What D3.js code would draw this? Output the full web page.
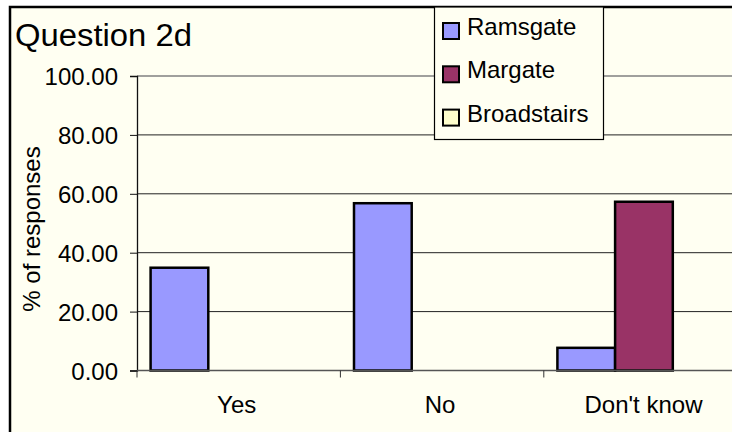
<!DOCTYPE html>
<html lang="en">
<head>
    <meta charset="UTF-8">
    <script src="https://d3js.org/d3.v7.min.js"></script>
    <title>Question 2d</title>
    <style>
        body { margin: 0; background: white; }
        text { font-family: Arial, "Liberation Sans", sans-serif; fill: black; }
    </style>
</head>
<body>
    <div class="chart"></div>
    <script>
        // data
        const categories = ["Yes", "No", "Don't know"];
        const seriesNames = ["Ramsgate", "Margate", "Broadstairs"];
        const ramsgate = [34.9, 56.8, 7.7];
        const margate = [0, 0, 57.3];
        const broadstairs = [0, 0, 0];
        const yTicks = [0, 20, 40, 60, 80, 100];
        const colors = ["#9999FF", "#993366", "#FFFFCC"];

        const seriesValues = [ramsgate, margate, broadstairs];

        const width = 732, height = 432;
        const plot = { left: 137, top: 76, bottom: 370.5, right: 747.2 };

        const svg = d3.select(".chart").append("svg")
            .attr("width", width)
            .attr("height", height);

        // chart area (cropped on the right and bottom like the original)
        svg.append("rect")
            .attr("x", 10).attr("y", 7)
            .attr("width", width + 20).attr("height", height + 20)
            .attr("fill", "#FFFFF2")
            .attr("stroke", "black")
            .attr("stroke-width", 2.5);

        const y = d3.scaleLinear().domain([0, 100]).range([plot.bottom, plot.top]);
        const x0 = d3.scaleBand().domain(categories).range([plot.left, plot.right]);
        const barW = 57.7, barOff = 13.6;
        const x1 = d3.scaleBand().domain(seriesNames).range([barOff, barOff + barW * seriesNames.length]);

        // gridlines
        svg.append("g").selectAll("line")
            .data(yTicks.filter(t => t > 0))
            .enter().append("line")
            .attr("x1", plot.left).attr("x2", width)
            .attr("y1", d => y(d)).attr("y2", d => y(d))
            .attr("stroke", d => d === 100 ? "#808080" : "#222")
            .attr("stroke-width", d => d === 100 ? 1.6 : 1);

        // y axis
        const yAxis = svg.append("g")
            .attr("transform", `translate(${plot.left},0)`)
            .call(d3.axisLeft(y).tickValues(yTicks).tickFormat(d3.format(".2f")).tickSize(7).tickPadding(12));
        yAxis.select(".domain").attr("stroke", "#111").attr("stroke-width", 1.3);
        yAxis.selectAll(".tick line").attr("stroke", "#111");
        yAxis.selectAll("text")
            .style("font-size", "24px")
            .style("font-family", "Arial, 'Liberation Sans', sans-serif")
            .attr("dy", "0.36em");

        // bars
        const rows = [];
        categories.forEach((c, i) => {
            seriesNames.forEach((s, j) => {
                rows.push({ cat: c, series: s, value: seriesValues[j][i], color: colors[j] });
            });
        });

        svg.append("g").selectAll("rect")
            .data(rows.filter(d => d.value > 0))
            .enter().append("rect")
            .attr("x", d => x0(d.cat) + x1(d.series))
            .attr("y", d => y(d.value))
            .attr("width", x1.bandwidth())
            .attr("height", d => y(0) - y(d.value))
            .attr("fill", d => d.color)
            .attr("stroke", "black")
            .attr("stroke-width", 2.5);

        // x axis
        svg.append("line")
            .attr("x1", plot.left).attr("x2", width)
            .attr("y1", y(0)).attr("y2", y(0))
            .attr("stroke", "#555").attr("stroke-width", 1.4);

        svg.append("g").selectAll("line")
            .data(categories)
            .enter().append("line")
            .attr("x1", d => x0(d)).attr("x2", d => x0(d))
            .attr("y1", y(0)).attr("y2", y(0) + 7)
            .attr("stroke", "#333");

        svg.append("g").selectAll("text")
            .data(categories)
            .enter().append("text")
            .attr("x", d => x0(d) + x0.bandwidth() / 2 - 2)
            .attr("y", 412.5)
            .attr("text-anchor", "middle")
            .style("font-size", "24px")
            .text(d => d);

        // titles
        svg.append("text")
            .attr("x", 15).attr("y", 46)
            .attr("textLength", 177)
            .attr("lengthAdjust", "spacingAndGlyphs")
            .style("font-size", "31px")
            .text("Question 2d");

        svg.append("text")
            .attr("transform", `translate(40,${(143 + 315) / 2}) rotate(-90)`)
            .attr("text-anchor", "middle")
            .style("font-size", "24px")
            .text("% of responses");

        // legend
        const legend = svg.append("g");
        legend.append("rect")
            .attr("x", 434.5).attr("y", 7)
            .attr("width", 169).attr("height", 132.5)
            .attr("fill", "#FFFFF2")
            .attr("stroke", "black")
            .attr("stroke-width", 1.2);

        const items = legend.selectAll("g")
            .data(seriesNames)
            .enter().append("g")
            .attr("transform", (d, i) => `translate(443,${23 + i * 43.3})`);

        items.append("rect")
            .attr("width", 16).attr("height", 16)
            .attr("fill", (d, i) => colors[i])
            .attr("stroke", "black")
            .attr("stroke-width", 2);

        items.append("text")
            .attr("x", 24).attr("y", 12)
            .style("font-size", "24px")
            .text(d => d);
    </script>
</body>
</html>
